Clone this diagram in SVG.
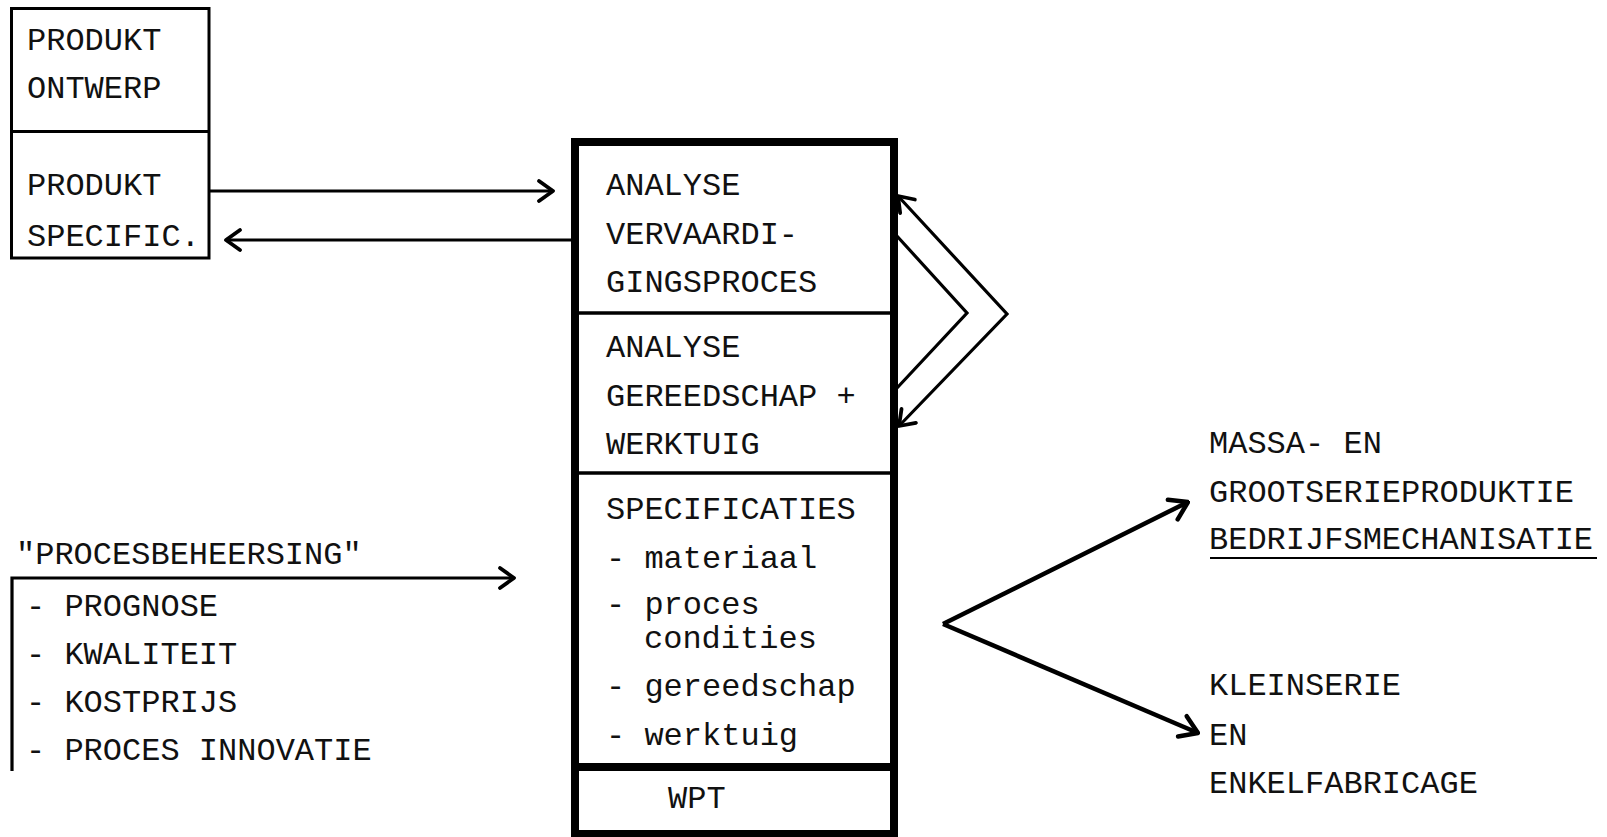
<svg xmlns="http://www.w3.org/2000/svg" width="1607" height="837" viewBox="0 0 1607 837">
<style>
text{font-family:"Liberation Mono","Courier New",monospace;font-size:32px;fill:#111}
.thin{fill:none;stroke:#000;stroke-width:3}
.thick{fill:none;stroke:#000;stroke-width:8}
.mid{fill:none;stroke:#000;stroke-width:3.5}
.con{fill:none;stroke:#000;stroke-width:3.2;stroke-linejoin:miter}
.fan{fill:none;stroke:#000;stroke-width:4.5}
</style>
<defs>
<marker id="arr" viewBox="0 0 24 24" refX="22" refY="12" markerWidth="24" markerHeight="24" markerUnits="userSpaceOnUse" orient="auto-start-reverse">
<path d="M8,2 L22,12 L8,22" fill="none" stroke="#000" stroke-width="3.8" stroke-linecap="round" stroke-linejoin="round"/>
</marker>
<marker id="arrb" viewBox="0 0 28 28" refX="26" refY="14" markerWidth="28" markerHeight="28" markerUnits="userSpaceOnUse" orient="auto">
<path d="M9,3 L26,14 L9,25" fill="none" stroke="#000" stroke-width="4.5" stroke-linecap="round" stroke-linejoin="round"/>
</marker>
</defs>
<rect width="1607" height="837" fill="#fff"/>

<g id="produkt">
<rect class="thin" x="11.5" y="8.5" width="197.5" height="249.5"/>
<line class="thin" x1="11.5" y1="131.5" x2="209" y2="131.5"/>
<text x="27" y="50">PRODUKT</text>
<text x="27" y="98">ONTWERP</text>
<text x="27" y="195">PRODUKT</text>
<text x="27" y="246">SPECIFIC.</text>
</g>

<g id="wpt-box">
<rect class="thick" x="575" y="142" width="319" height="692"/>
<line class="mid" x1="575" y1="313" x2="894" y2="313"/>
<line class="mid" x1="575" y1="473" x2="894" y2="473"/>
<line class="thick" x1="575" y1="767" x2="894" y2="767"/>
<text x="606" y="195">ANALYSE</text>
<text x="606" y="244">VERVAARDI-</text>
<text x="606" y="292">GINGSPROCES</text>
<text x="606" y="357">ANALYSE</text>
<text x="606" y="406">GEREEDSCHAP +</text>
<text x="606" y="454">WERKTUIG</text>
<text x="606" y="519">SPECIFICATIES</text>
<text x="606" y="568">- materiaal</text>
<text x="606" y="614">- proces</text>
<text x="644" y="648">condities</text>
<text x="606" y="696">- gereedschap</text>
<text x="606" y="745">- werktuig</text>
<text x="668" y="808">WPT</text>
</g>

<g id="procesbeheersing">
<text x="16" y="564">"PROCESBEHEERSING"</text>
<text x="26" y="616">- PROGNOSE</text>
<text x="26" y="664">- KWALITEIT</text>
<text x="26" y="712">- KOSTPRIJS</text>
<text x="26" y="760">- PROCES INNOVATIE</text>
</g>

<g id="massa">
<text x="1209" y="453">MASSA- EN</text>
<text x="1209" y="502">GROOTSERIEPRODUKTIE</text>
<text x="1209" y="549">BEDRIJFSMECHANISATIE</text>
<line x1="1210" y1="558" x2="1597" y2="558" stroke="#000" stroke-width="2"/>
</g>

<g id="klein">
<text x="1209" y="695">KLEINSERIE</text>
<text x="1209" y="745">EN</text>
<text x="1209" y="793">ENKELFABRICAGE</text>
</g>

<g id="connectors">
<line class="con" x1="209" y1="191" x2="553" y2="191" marker-end="url(#arr)"/>
<line class="con" x1="575" y1="240" x2="226" y2="240" marker-end="url(#arr)"/>
<polyline class="con" points="12,771 12,578 514,578" marker-end="url(#arr)"/>
<polyline class="con" points="898,196 1007,314 899,426" marker-start="url(#arr)" marker-end="url(#arr)"/>
<polyline class="con" points="896,235 967,313 897,388"/>
<line class="fan" x1="943" y1="624" x2="1188" y2="502" marker-end="url(#arrb)"/>
<line class="fan" x1="943" y1="624" x2="1198" y2="733" marker-end="url(#arrb)"/>
</g>
</svg>
